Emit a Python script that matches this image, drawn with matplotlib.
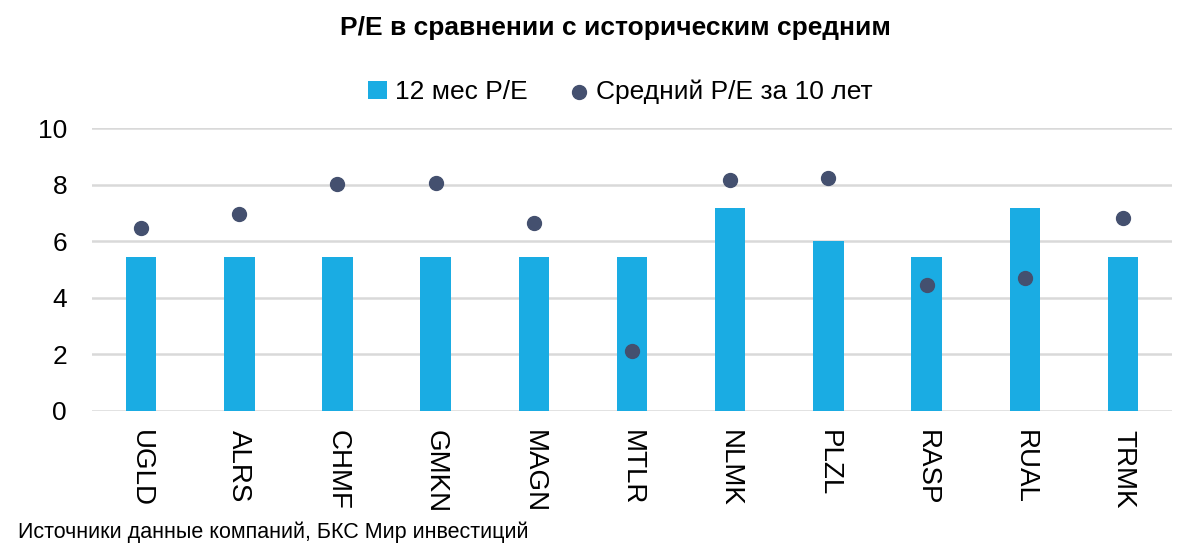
import matplotlib.pyplot as plt
import numpy as np

plt.rcParams['font.family'] = ['Liberation Sans', 'DejaVu Sans']

tickers = ['UGLD', 'ALRS', 'CHMF', 'GMKN', 'MAGN', 'MTLR',
           'NLMK', 'PLZL', 'RASP', 'RUAL', 'TRMK']
pe_12m = [5.45, 5.45, 5.45, 5.45, 5.45, 5.45, 7.18, 6.0, 5.45, 7.18, 5.45]
pe_avg10 = [6.46, 6.97, 8.02, 8.05, 6.63, 2.11, 8.15, 8.22, 4.45, 4.69, 6.82]

bar_color = '#1AACE3'
dot_color = '#44506F'

fig = plt.figure(figsize=(12, 5.5), dpi=100)
ax = fig.add_axes([0.0767, 0.253, 0.9, 0.514])

x = np.arange(len(tickers))
bars = ax.bar(x, pe_12m, width=0.31, color=bar_color, label='12 мес P/E', zorder=2)
dots = ax.scatter(x, pe_avg10, s=100, color=dot_color, label='Средний P/E за 10 лет', zorder=3)

ax.set_xlim(-0.5, len(tickers) - 0.5)
ax.set_ylim(0, 10)
ax.set_yticks([0, 2, 4, 6, 8, 10])
ax.yaxis.grid(True, color='#D9D9D9', linewidth=1.8, zorder=0)
ax.set_axisbelow(True)
for s in ax.spines.values():
    s.set_visible(False)
ax.tick_params(axis='both', length=0)
ax.tick_params(axis='y', labelsize=19, pad=18)
ax.set_xticks(x)
ax.set_xticklabels(tickers, rotation=-90, fontsize=20)
ax.tick_params(axis='x', pad=14)

fig.text(0.513, 0.949, 'P/E в сравнении с историческим средним',
         ha='center', va='center', fontsize=19, fontweight='bold')

fig.legend([bars, dots], ['12 мес P/E', 'Средний P/E за 10 лет'],
           loc='center', bbox_to_anchor=(0.517, 0.833), ncol=2, frameon=False,
           fontsize=19, handlelength=0.7, handletextpad=0.3, columnspacing=1.6)

fig.text(0.015, 0.033, 'Источники данные компаний, БКС Мир инвестиций',
         ha='left', va='center', fontsize=15.5)

fig.savefig('out.png', dpi=100)
